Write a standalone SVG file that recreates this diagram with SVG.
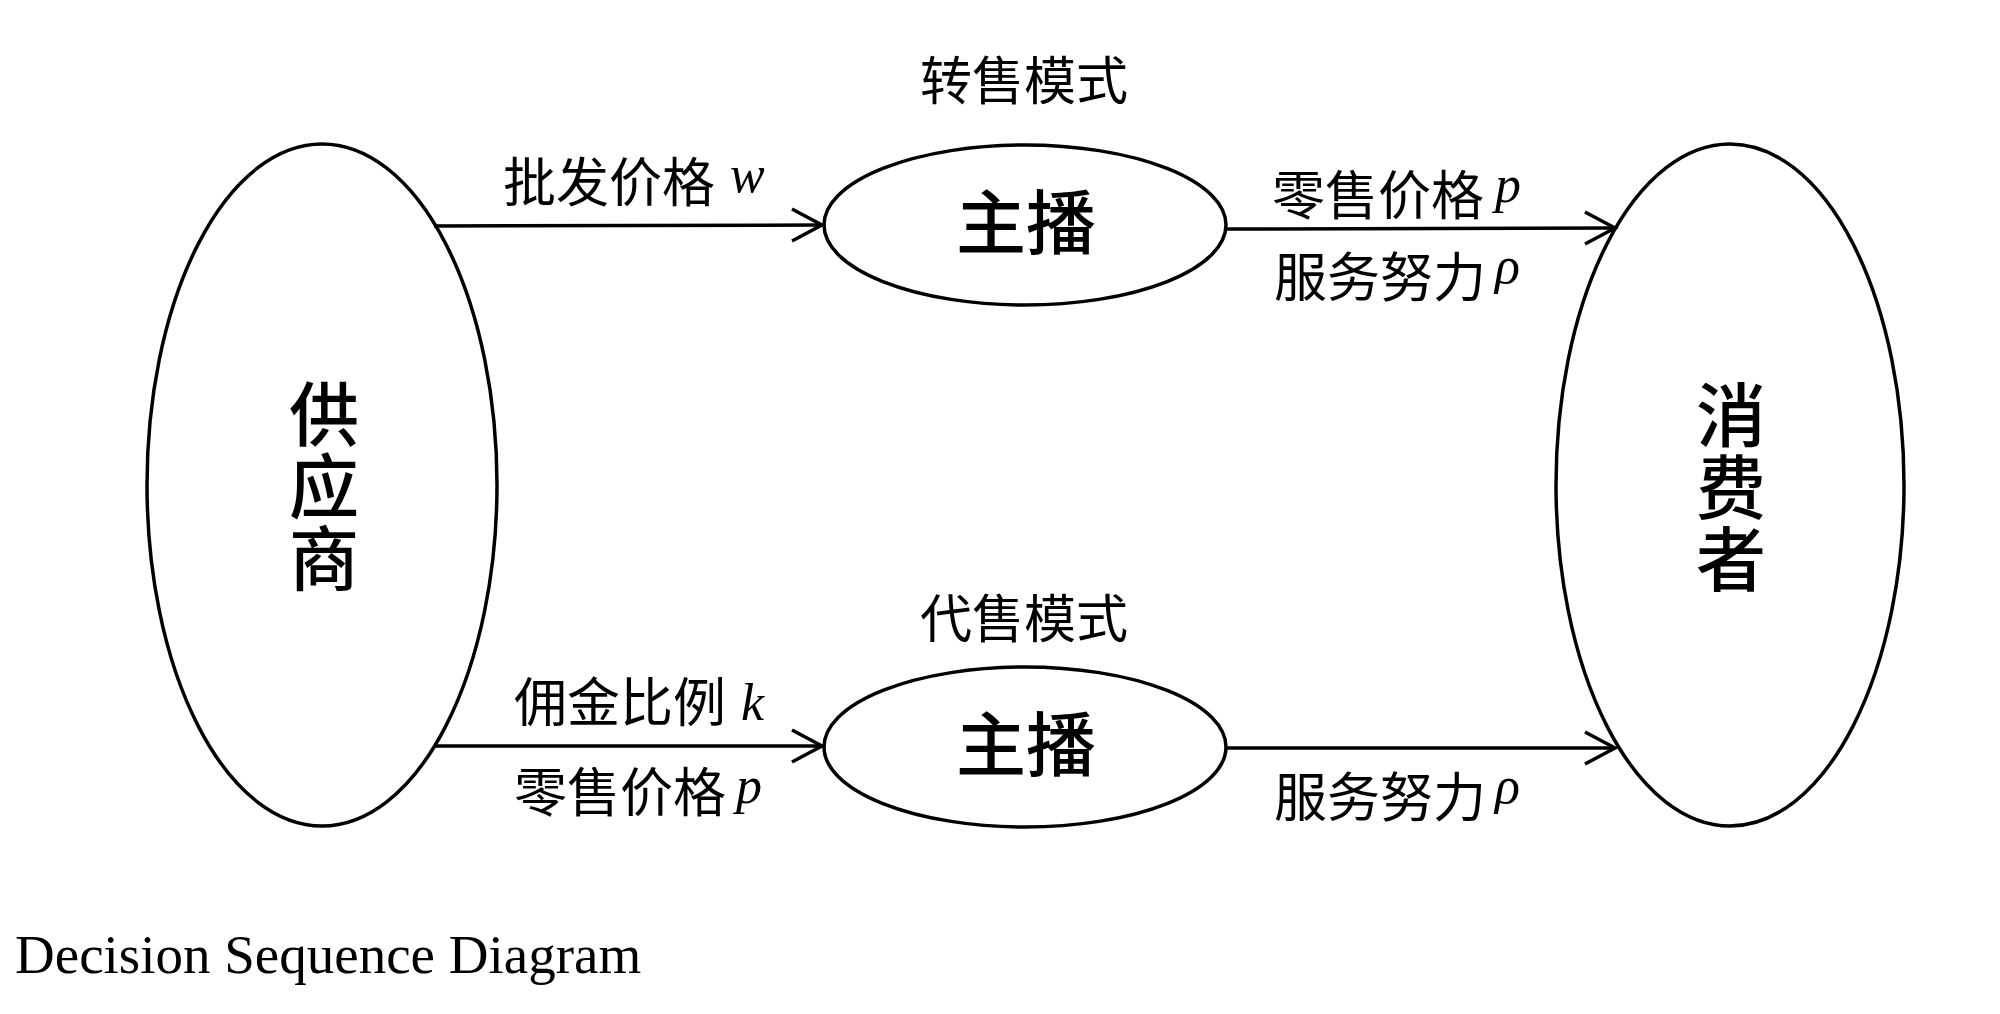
<svg xmlns="http://www.w3.org/2000/svg" width="2000" height="1014" viewBox="0 0 2000 1014">
<style>
.shape{fill:#fff;stroke:#000;stroke-width:3.5}
.conn{stroke:#000;stroke-width:3.5;fill:none}
.lbl{font-family:"Noto Sans CJK SC","Noto Sans",sans-serif;font-size:53px;fill:#000}
.mode{font-family:"Noto Sans CJK SC","Noto Sans",sans-serif;font-size:52px;fill:#000;text-anchor:middle}
.big{font-family:"Noto Sans CJK SC","Noto Sans",sans-serif;font-size:70px;font-weight:500;fill:#000;text-anchor:middle}
.vert{font-family:"Noto Sans CJK SC","Noto Sans",sans-serif;font-size:70px;font-weight:500;fill:#000;text-anchor:middle;writing-mode:vertical-rl;letter-spacing:2px}
.var{font-family:"Liberation Serif","Times New Roman",serif;font-style:italic;font-size:52px;fill:#000}
.cap{font-family:"Liberation Serif","Times New Roman",serif;font-size:55px;fill:#000}
</style>
<defs>
<marker id="arr" markerUnits="userSpaceOnUse" markerWidth="44" markerHeight="44" viewBox="-36 -22 44 44" refX="0" refY="0" orient="auto">
<path d="M-30,-16 L0,0 L-30,16" fill="none" stroke="#000" stroke-width="3.5"/>
</marker>
</defs>
<rect width="2000" height="1014" fill="#fff"/>

<g id="supplier">
<ellipse class="shape" cx="322" cy="485" rx="175" ry="341"/>
<text class="vert" x="324" y="487">供应商</text>
</g>

<g id="consumer">
<ellipse class="shape" cx="1730" cy="485" rx="174" ry="341"/>
<text class="vert" x="1731" y="488">消费者</text>
</g>

<g id="anchor-resale">
<text class="mode" x="1024" y="100">转售模式</text>
<ellipse class="shape" cx="1025" cy="225" rx="201" ry="80"/>
<text class="big" x="1026" y="249">主播</text>
</g>

<g id="anchor-agency">
<text class="mode" x="1024" y="638">代售模式</text>
<ellipse class="shape" cx="1025" cy="747" rx="201" ry="80"/>
<text class="big" x="1026" y="771">主播</text>
</g>

<g id="connectors">
<line class="conn" x1="434" y1="226" x2="822" y2="225" marker-end="url(#arr)"/>
<line class="conn" x1="1226" y1="229" x2="1615" y2="228" marker-end="url(#arr)"/>
<line class="conn" x1="434" y1="746" x2="822" y2="746" marker-end="url(#arr)"/>
<line class="conn" x1="1226" y1="748" x2="1615" y2="748" marker-end="url(#arr)"/>
</g>

<g id="labels">
<text class="lbl" x="503" y="202">批发价格</text>
<text class="var" x="730" y="192">w</text>
<text class="lbl" x="1272" y="215">零售价格</text>
<text class="var" x="1495" y="202">p</text>
<text class="lbl" x="1274" y="297">服务努力</text>
<text class="var" x="1495" y="283">ρ</text>
<text class="lbl" x="514" y="722">佣金比例</text>
<text class="var" x="741" y="720">k</text>
<text class="lbl" x="514" y="812">零售价格</text>
<text class="var" x="736" y="803">p</text>
<text class="lbl" x="1274" y="817">服务努力</text>
<text class="var" x="1495" y="803">ρ</text>
</g>

<text class="cap" x="15" y="973">Decision Sequence Diagram</text>
</svg>
